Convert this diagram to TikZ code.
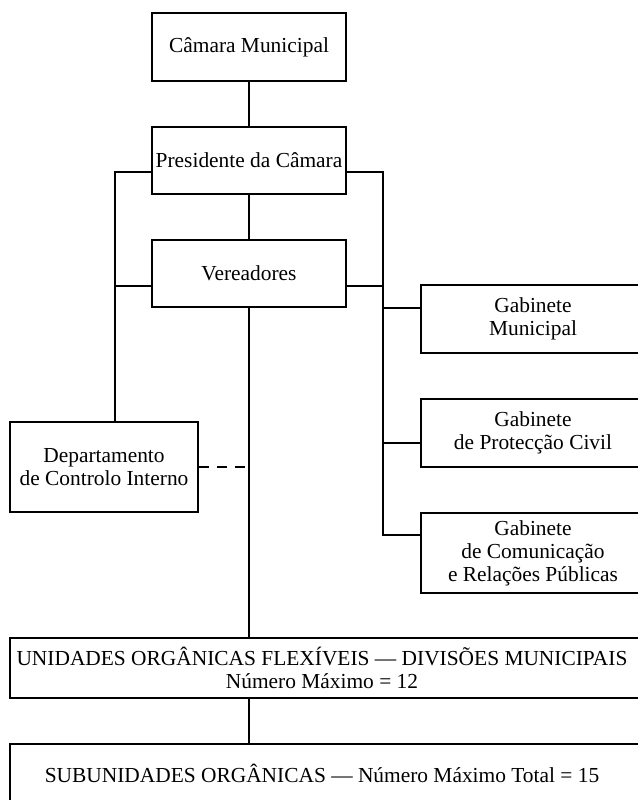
\documentclass[tikz,border=0pt]{standalone}
\usepackage{fontspec}
\setmainfont{Liberation Serif}
\begin{document}
\begin{tikzpicture}[x=1pt,y=-1pt,
  box/.style={draw=black,line width=2.2pt,rectangle,inner sep=0pt,align=center,fill=white},
  lbl/.style={align=center,inner sep=0pt},
  conn/.style={line width=2.2pt},
  every node/.style={font=\fontsize{21.4}{23}\selectfont}]
\useasboundingbox (0,0) rectangle (637,800);
% boxes
\node[box,minimum width=194pt,minimum height=68pt] (cam) at (249,47) {Câmara Municipal};
\node[box,minimum width=194pt,minimum height=67pt] (pres) at (249,160.5) {Presidente da Câmara};
\node[box,minimum width=194pt,minimum height=67pt] (ver) at (249,273.5) {Vereadores};
\node[box,minimum width=224pt,minimum height=68pt] (gm) at (533,319) {Gabinete\\Municipal};
\node[box,minimum width=224pt,minimum height=68pt] (gpc) at (533,433) {Gabinete\\de Protecção Civil};
\node[box,minimum width=224pt,minimum height=80pt] (gcr) at (533,553) {Gabinete\\de Comunicação\\e Relações Públicas};
\node[box,minimum width=188pt,minimum height=90pt] (dci) at (104,467) {Departamento\\de Controlo Interno};
\node[box,minimum width=640pt,minimum height=60pt] (uni) at (330,668) {};
\node[lbl] (unit) at (322,668) {UNIDADES ORGÂNICAS FLEXÍVEIS — DIVISÕES MUNICIPAIS\\Número Máximo = 12};
\node[box,minimum width=640pt,minimum height=90pt] (sub) at (330,789) {};
\node[lbl] (subt) at (322,773) {SUBUNIDADES ORGÂNICAS — Número Máximo Total = 15};
% helper coordinates
\coordinate (pl) at (152,172);
\coordinate (pr) at (346,172);
\coordinate (lx) at (115,172);
\coordinate (rx) at (383,172);
\coordinate (vl) at (152,286);
\coordinate (vr) at (346,286);
\coordinate (dtop) at (115,422);
\coordinate (rb) at (383,535);
\coordinate (dashend) at (250,467);
% connectors
\draw[conn] (cam.south) -- (pres.north);
\draw[conn] (pres.south) -- (ver.north);
\draw[conn] (ver.south) -- (uni.north -| ver.south);
\draw[conn] (uni.south -| ver.south) -- (sub.north -| ver.south);
\draw[conn] (pl) -- (lx) -- (dtop);
\draw[conn] (vl) -- (vl -| lx);
\draw[conn] (pr) -- (rx) -- (rb) -- (rb -| gcr.west);
\draw[conn] (vr) -- (vr -| rx);
\draw[conn] (gm.west |- 0,308) -- (rx |- 0,308);
\draw[conn] (gpc.west |- 0,443) -- (rx |- 0,443);
\draw[conn,dash pattern=on 10pt off 8pt] (dci.east) -- (dashend);
\end{tikzpicture}
\end{document}
